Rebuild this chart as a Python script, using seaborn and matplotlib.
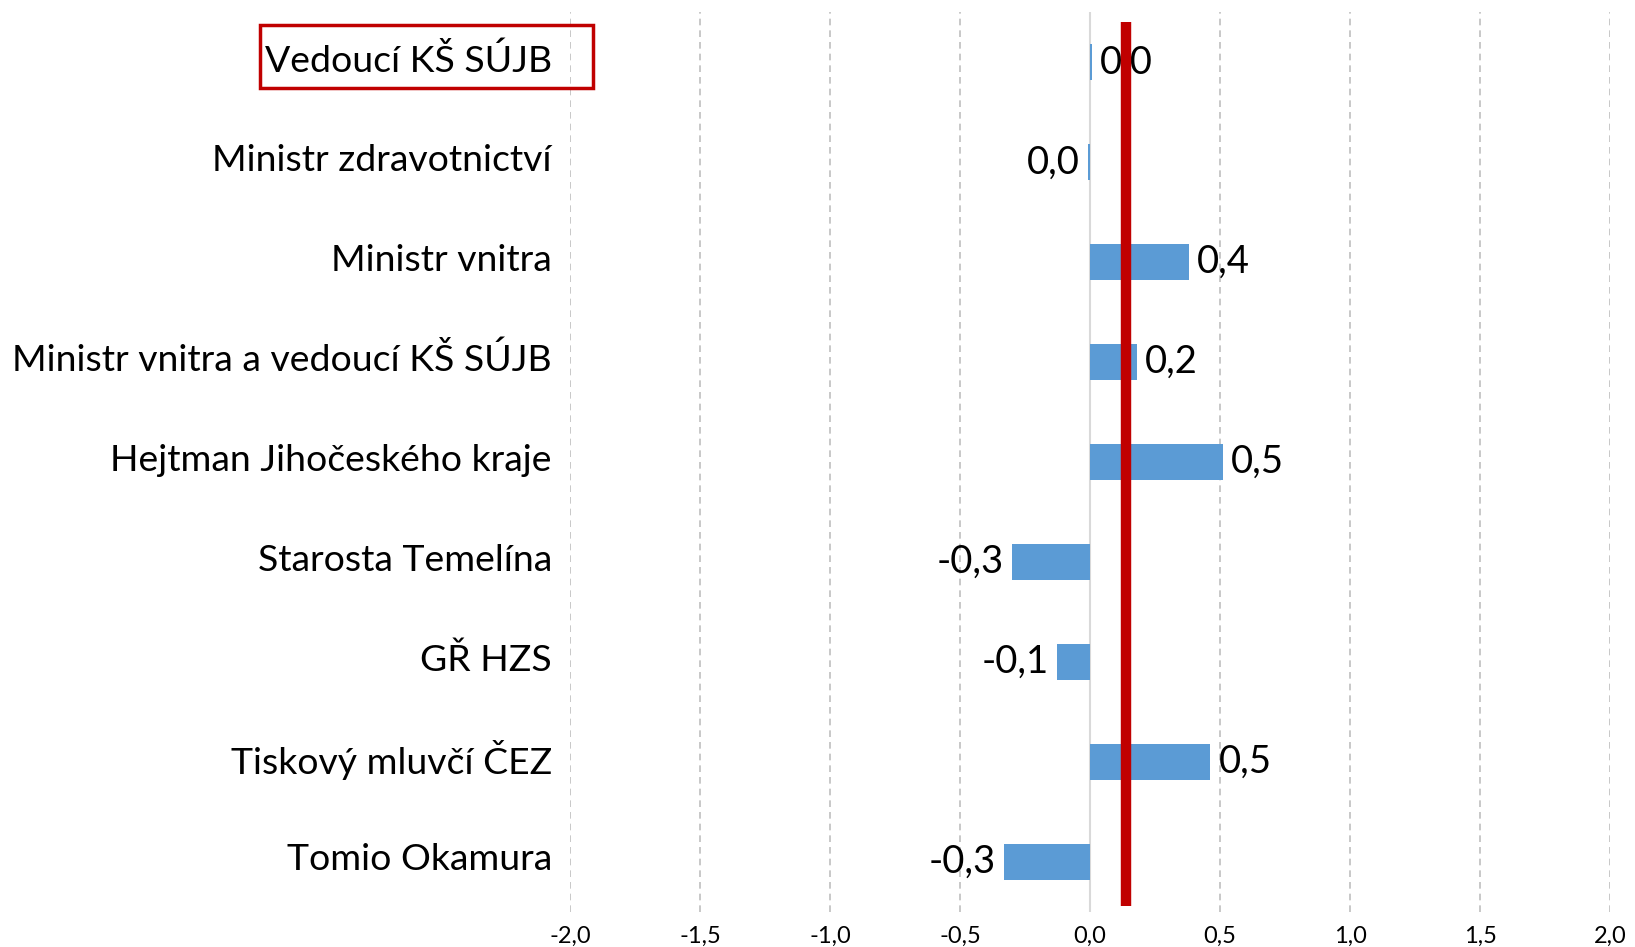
import matplotlib
matplotlib.use("Agg")
import matplotlib.pyplot as plt
import matplotlib.transforms as mtransforms
import seaborn as sns
import pandas as pd
from matplotlib.patches import Rectangle

categories = [
    "Vedoucí KŠ SÚJB",
    "Ministr zdravotnictví",
    "Ministr vnitra",
    "Ministr vnitra a vedoucí KŠ SÚJB",
    "Hejtman Jihočeského kraje",
    "Starosta Temelína",
    "GŘ HZS",
    "Tiskový mluvčí ČEZ",
    "Tomio Okamura",
]
values = [0.006, -0.006, 0.38, 0.18, 0.51, -0.30, -0.127, 0.462, -0.33]
reference_value = 0.137
x_ticks = [-2.0, -1.5, -1.0, -0.5, 0.0, 0.5, 1.0, 1.5, 2.0]

sns.set_style("white")
plt.rcParams["font.family"] = ["Lato", "DejaVu Sans"]
plt.rcParams["text.color"] = "black"
plt.rcParams["xtick.color"] = "black"
plt.rcParams["ytick.color"] = "black"

df = pd.DataFrame({"kat": categories, "hodnota": values})

fig = plt.figure(figsize=(16.35, 9.47), dpi=100)
ax = fig.add_axes([0.3486, 0.037, 0.6361, 0.950])

sns.barplot(data=df, y="kat", x="hodnota", orient="h", color="#5B9BD5",
            width=0.36, saturation=1, ax=ax, zorder=2,
            linewidth=0, edgecolor="none")

ax.set_xlim(-2, 2)
ax.set_ylim(len(categories) - 0.5, -0.5)
ax.set_xticks(x_ticks)
ax.set_xticklabels([f"{t:.1f}".replace(".", ",") for t in x_ticks], fontsize=17,
                   color="black")
ax.set_xlabel("")
ax.set_ylabel("")
ax.tick_params(axis="y", labelsize=26.9, pad=13, length=0, labelcolor="black")
ax.tick_params(axis="x", pad=10, length=0, labelcolor="black")
shift = mtransforms.ScaledTranslation(0, 5 / 100, fig.dpi_scale_trans)
for lbl in ax.get_yticklabels():
    lbl.set_verticalalignment("center_baseline")
    lbl.set_transform(lbl.get_transform() + shift)

for s in ax.spines.values():
    s.set_visible(False)

for t in x_ticks:
    if t == 0:
        ax.axvline(t, color="#D9D9D9", lw=1.5, zorder=1)
    else:
        ax.axvline(t, color="#BFBFBF", lw=1.2, ls=(0, (4, 3)), zorder=1)

labels = []
for v in values:
    s = f"{v:.1f}"
    if s == "-0.0":
        s = "0.0"
    labels.append(s.replace(".", ","))
texts = ax.bar_label(ax.containers[0], labels=labels, padding=6, fontsize=27.5,
                     color="black", zorder=3)
lshift = mtransforms.ScaledTranslation(0, 2 / 100, fig.dpi_scale_trans)
for t in texts:
    t.set_transform(t.get_transform() + lshift)

ax.axvline(reference_value, ymin=0.007, ymax=0.989, color="#C00000", lw=7.5,
           solid_capstyle="butt", zorder=4)

# red frame around the first category label
fig.add_artist(Rectangle((260 / 1635, 1 - 88 / 947), (593 - 260) / 1635, (88 - 25) / 947,
                         transform=fig.transFigure, fill=False, edgecolor="#C00000", lw=2.5))

fig.savefig("out.png", dpi=100)
